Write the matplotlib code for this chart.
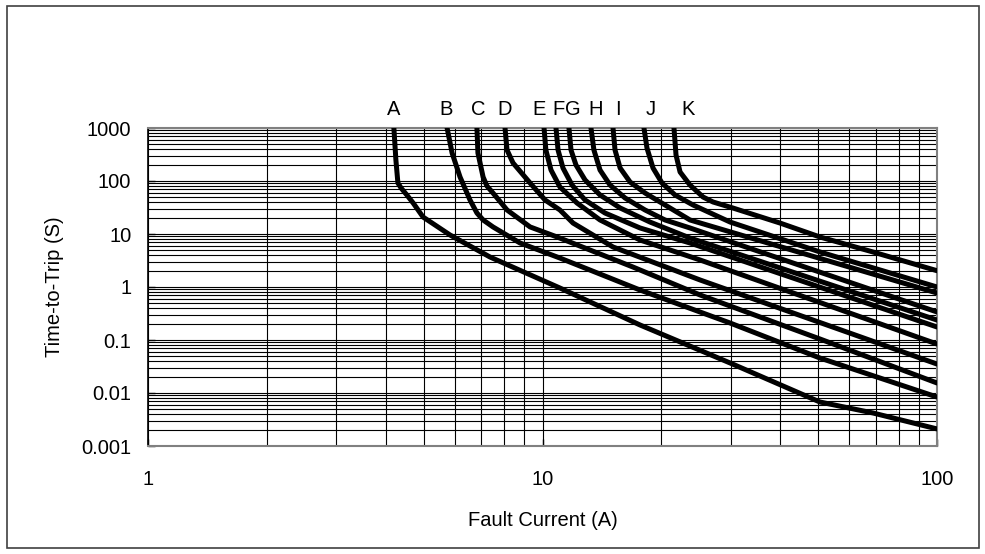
import numpy as np
import matplotlib
matplotlib.use('Agg')
from matplotlib import pyplot as plt
from matplotlib.patches import Rectangle

plt.rcParams['font.family'] = ['Liberation Sans', 'DejaVu Sans']

# trip curves: fault current (A) vs time-to-trip (s)
A_x = [4.20, 4.25, 4.30, 4.38, 4.53, 4.70, 4.98, 5.83, 7.36, 11.07, 17.67, 29.9, 50.5, 68.8, 100]
A_y = [1000, 249, 91.7, 73.8, 54.5, 38.5, 20.9, 9.57, 3.68, 0.957, 0.192, 0.0368, 0.00676, 0.0042, 0.0021]

B_x = [5.73, 5.90, 6.18, 6.55, 6.82, 7.07, 7.49, 8.77, 11.07, 17.67, 29.9, 50.5, 100]
B_y = [1000, 337, 119, 43.8, 24.9, 18.4, 13.6, 6.77, 3.52, 0.877, 0.209, 0.0457, 0.0084]

C_x = [6.82, 6.86, 7.07, 7.23, 7.49, 8.13, 9.30, 10.89, 16.96, 25.1, 50.5, 100]
C_y = [1000, 337, 119, 80.5, 59.4, 28.4, 13.6, 8.78, 2.38, 0.706, 0.1045, 0.01545]

D_x = [8.035, 8.13, 8.42, 9.30, 10.15, 11.07, 11.95, 15.09, 25.1, 100]
D_y = [1000, 384, 219, 91.7, 43.8, 28.4, 16.1, 5.69, 1.355, 0.0352]

E_x = [10.09, 10.2, 10.51, 11.07, 12.23, 13.99, 17.67, 25.1, 100]
E_y = [1000, 384, 161, 77.1, 38.5, 18.4, 7.7, 3.23, 0.084]

F_x = [10.82, 10.95, 11.27, 11.88, 12.82, 14.4, 17.67, 23.65, 100]
F_y = [1000, 384, 176, 84, 43.8, 24.9, 13.0, 6.77, 0.176]

G_x = [11.67, 11.81, 12.16, 12.82, 13.99, 15.73, 18.73, 23.65, 100]
G_y = [1000, 384, 200, 104.5, 54.5, 31.0, 16.8, 8.4, 0.238]

H_x = [13.27, 13.5, 13.99, 14.83, 16.19, 18.19, 20.44, 23.65, 100]
H_y = [1000, 384, 161, 84, 47.8, 28.4, 18.4, 13.0, 0.338]

I_x = [15.09, 15.27, 15.73, 16.67, 18.19, 20.44, 23.65, 100]
I_y = [1000, 384, 176, 95.7, 59.4, 35.3, 18.4, 0.77]

J_x = [18.08, 18.4, 19.06, 20.09, 21.67, 24.07, 29.9, 50.5, 100]
J_y = [1000, 419, 176, 91.7, 54.5, 35.3, 16.8, 4.58, 1.0]

K_x = [21.54, 21.8, 22.32, 23.65, 25.52, 27.05, 30.4, 40.0, 50.5, 68.8, 100]
K_y = [1000, 309, 148, 84, 49.9, 40.2, 30.9, 16.1, 8.78, 4.58, 2.03]

names = ['A', 'B', 'C', 'D', 'E', 'F', 'G', 'H', 'I', 'J', 'K']
curves = [(A_x, A_y), (B_x, B_y), (C_x, C_y), (D_x, D_y), (E_x, E_y), (F_x, F_y),
          (G_x, G_y), (H_x, H_y), (I_x, I_y), (J_x, J_y), (K_x, K_y)]
# where the letters sit above the plot
label_x = [4.20, 5.69, 6.86, 8.035, 9.80, 10.95, 11.95, 13.66, 15.54, 18.84, 23.38]

y_ticks = [0.001, 0.01, 0.1, 1, 10, 100, 1000]
y_tick_labels = ['0.001', '0.01', '0.1', '1', '10', '100', '1000']
x_ticks = [1, 10, 100]
x_tick_labels = ['1', '10', '100']

fig = plt.figure(figsize=(9.85, 5.54), dpi=100)
ax = fig.add_axes([148/985, 108/554, 789/985, 318/554])

for (xs, ys) in curves:
    ax.plot(xs, ys, color='black', lw=3.6, solid_joinstyle='round',
            solid_capstyle='round', zorder=3)

ax.set_xscale('log')
ax.set_yscale('log')
ax.set_xlim(1, 100)
ax.set_ylim(0.001, 1000)

ax.set_xticks(x_ticks)
ax.set_xticklabels(x_tick_labels)
ax.set_yticks(y_ticks)
ax.set_yticklabels(y_tick_labels)
ax.tick_params(which='major', direction='in', length=5, width=1, labelsize=14.5)
ax.tick_params(axis='x', which='major', pad=17)
ax.tick_params(axis='y', which='major', pad=12)
ax.tick_params(which='minor', length=0)

ax.grid(True, which='major', color='black', lw=0.8)
ax.grid(True, which='minor', color='black', lw=0.8)

for side in ['top', 'right', 'bottom']:
    ax.spines[side].set_color('#808080')
    ax.spines[side].set_linewidth(1.5)
ax.spines['left'].set_color('black')
ax.spines['left'].set_linewidth(1.2)

for name, lx in zip(names, label_x):
    ax.annotate(name, (lx, 1000), xytext=(0, 13), textcoords='offset points',
                ha='center', va='center', fontsize=14.5, annotation_clip=False)

fig.text(543/985, 1 - 520/554, 'Fault Current (A)', ha='center', va='center', fontsize=14.5)
fig.text(55/985, 1 - 287/554, 'Time-to-Trip (S)', ha='center', va='center',
         rotation=90, fontsize=14.5)

# chart border
fig.patches.append(Rectangle((7/985, 6/554), 972/985, 542/554, transform=fig.transFigure,
                             fill=False, edgecolor='#404040', lw=1.2))

plt.savefig('out.png', dpi=100)
